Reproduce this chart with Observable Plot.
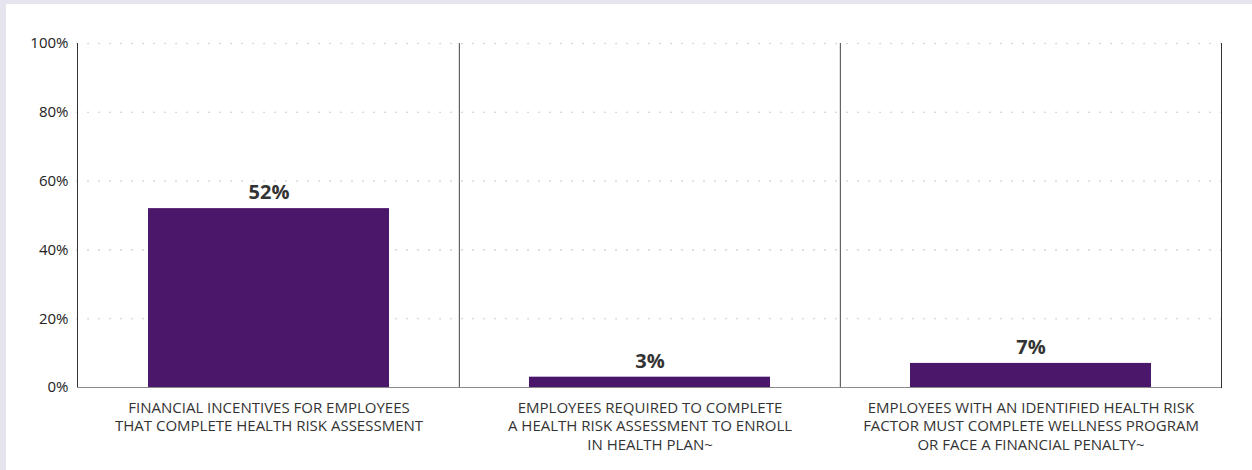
<!DOCTYPE html>
<html>
<head>
<meta charset="utf-8">
<script src="https://cdn.jsdelivr.net/npm/d3@7"></script>
<script src="https://cdn.jsdelivr.net/npm/@observablehq/plot@0.6"></script>
<style>
  html, body { margin: 0; padding: 0; background: #e6e4ef; }
  #panel { position: absolute; left: 6px; top: 4px; width: 1246px; height: 466px; background: #fff; }
  svg { font-family: "Open Sans", "Noto Sans", sans-serif; }
</style>
</head>
<body>
<div id="panel"></div>
<script>
const categories = [
  "FINANCIAL INCENTIVES FOR EMPLOYEES\nTHAT COMPLETE HEALTH RISK ASSESSMENT",
  "EMPLOYEES REQUIRED TO COMPLETE\nA HEALTH RISK ASSESSMENT TO ENROLL\nIN HEALTH PLAN~",
  "EMPLOYEES WITH AN IDENTIFIED HEALTH RISK\nFACTOR MUST COMPLETE WELLNESS PROGRAM\nOR FACE A FINANCIAL PENALTY~"
];
const values = [52, 3, 7];
const yTicks = [0, 20, 40, 60, 80, 100];

const data = categories.map((c, i) => ({category: c, value: values[i]}));

const width = 1246, height = 466;
const marginLeft = 71, marginRight = 31, marginTop = 39, marginBottom = 83;
const step = (width - marginLeft - marginRight) / categories.length;

const chart = Plot.plot({
  width, height, marginLeft, marginRight, marginTop, marginBottom,
  style: {fontFamily: '"Open Sans", "Noto Sans", sans-serif', background: "transparent"},
  x: {type: "band", domain: categories, paddingInner: 0.368, paddingOuter: 0.184, axis: null},
  y: {domain: [0, 100], axis: null},
  marks: [
    Plot.ruleY(yTicks.filter(d => d > 0), {stroke: "#c8c8c8", strokeWidth: 1.6, strokeDasharray: "0.1,10.9", strokeLinecap: "round"}),
    Plot.barY(data, {x: "category", y: "value", fill: "#4b176b"}),
    Plot.ruleX(categories.slice(1), {x: d => d, dx: -step / 2, stroke: "#444", strokeWidth: 1}),
    Plot.frame({anchor: "right", stroke: "#333"}),
    Plot.frame({anchor: "left", stroke: "#333"}),
    Plot.ruleY([0], {stroke: "#8a8a8a", strokeWidth: 1.2}),
    Plot.text(yTicks, {
      y: d => d, frameAnchor: "left", dx: -9, textAnchor: "end",
      text: d => d + "%", fontSize: 15, fill: "#222"
    }),
    Plot.text(data, {
      x: "category", y: "value", text: d => d.value + "%",
      dy: -16, fontSize: 20, fontWeight: "bold", fill: "#333"
    }),
    Plot.text(data, {
      x: "category", text: "category", frameAnchor: "bottom", lineAnchor: "top",
      dy: 12, fontSize: 15, lineHeight: 1.24, fill: "#333"
    })
  ]
});
document.getElementById("panel").appendChild(chart);
</script>
</body>
</html>
